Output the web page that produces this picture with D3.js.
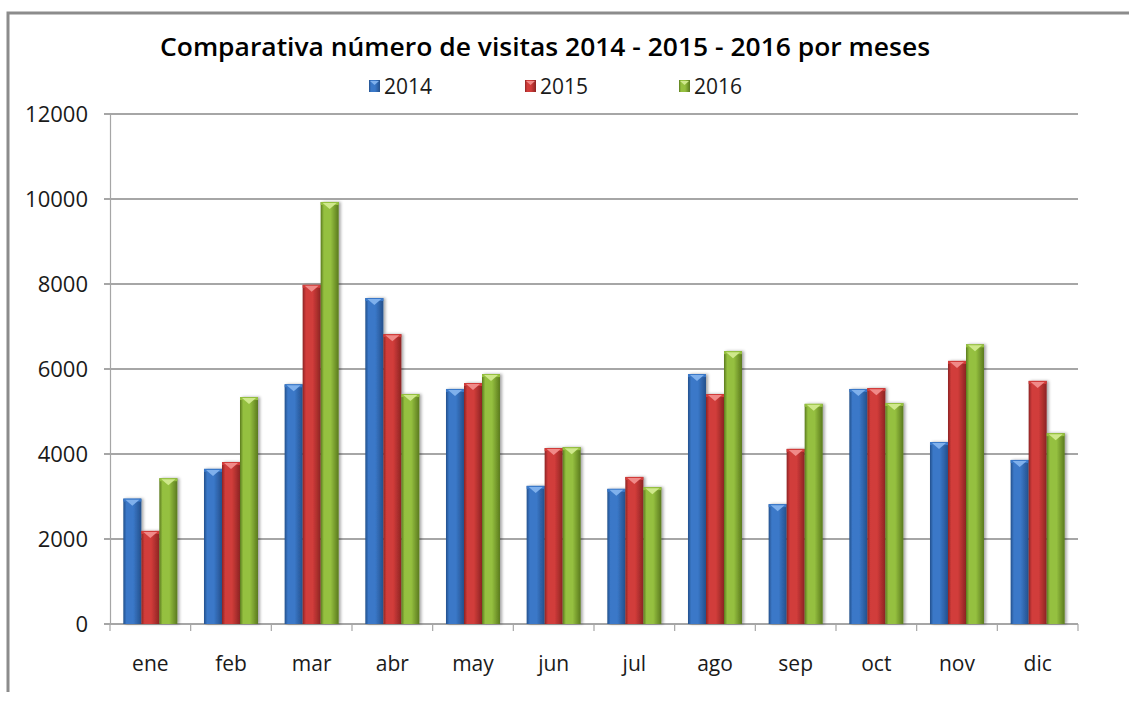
<!DOCTYPE html>
<html>
<head>
<meta charset="utf-8">
<script src="https://cdn.jsdelivr.net/npm/d3@7"></script>
<style>
  body { margin: 0; background: #fff; }
  svg { display: block; }
</style>
</head>
<body>
<svg id="chart" width="1129" height="701"></svg>
<script>
const months = ["ene", "feb", "mar", "abr", "may", "jun", "jul", "ago", "sep", "oct", "nov", "dic"];
const years = ["2014", "2015", "2016"];
const visits2014 = [2950, 3650, 5640, 7670, 5530, 3250, 3180, 5880, 2820, 5530, 4280, 3860];
const visits2015 = [2190, 3810, 7980, 6820, 5670, 4140, 3460, 5410, 4120, 5550, 6190, 5720];
const visits2016 = [3430, 5340, 9930, 5410, 5880, 4160, 3220, 6420, 5180, 5200, 6580, 4490];
const yTicks = [0, 2000, 4000, 6000, 8000, 10000, 12000];
const title = "Comparativa número de visitas 2014 - 2015 - 2016 por meses";

const series = [visits2014, visits2015, visits2016];
const colors = {
  "2014": { dark: "#24508c", mid: "#3a78c8", light: "#7fb0ec" },
  "2015": { dark: "#8c2423", mid: "#d13c3a", light: "#f08a88" },
  "2016": { dark: "#5a7a1e", mid: "#95c03f", light: "#cfe88c" }
};

const svg = d3.select("#chart");
const plotLeft = 110, plotRight = 1078, plotTop = 114, plotBottom = 624;

// outer frame (only top and left edges are visible)
svg.append("path")
  .attr("d", "M8,692 L8,13 L1129,13")
  .attr("fill", "none")
  .attr("stroke", "#8c8c8c")
  .attr("stroke-width", 3);

const defs = svg.append("defs");
years.forEach(yr => {
  let g = defs.append("linearGradient").attr("id", "grad" + yr)
    .attr("x1", "0%").attr("x2", "100%").attr("y1", "0%").attr("y2", "0%");
  g.append("stop").attr("offset", "0%").attr("stop-color", colors[yr].dark);
  g.append("stop").attr("offset", "18%").attr("stop-color", colors[yr].mid);
  g.append("stop").attr("offset", "55%").attr("stop-color", colors[yr].mid);
  g.append("stop").attr("offset", "100%").attr("stop-color", colors[yr].dark);
});
let sh = defs.append("filter").attr("id", "shadow").attr("x", "-20%").attr("width", "160%");
sh.append("feDropShadow").attr("dx", 2).attr("dy", 0).attr("stdDeviation", 1.5)
  .attr("flood-color", "#000").attr("flood-opacity", 0.35);

const x0 = d3.scaleBand().domain(months).range([plotLeft, plotRight]);
const x1 = d3.scaleBand().domain(years).range([0, x0.bandwidth()]).paddingOuter(0.74);
const y = d3.scaleLinear().domain([0, 12000]).range([plotBottom, plotTop]);

// gridlines
svg.append("g")
  .selectAll("line")
  .data(yTicks)
  .join("line")
  .attr("x1", plotLeft - 6).attr("x2", plotRight)
  .attr("y1", d => y(d)).attr("y2", d => y(d))
  .attr("stroke", "#a6a6a6").attr("stroke-width", 1.2)
  .attr("shape-rendering", "crispEdges");

// y axis
const yAxis = svg.append("g")
  .attr("transform", `translate(${plotLeft},0)`)
  .call(d3.axisLeft(y).tickValues(yTicks).tickFormat(d3.format("d")).tickSize(6).tickPadding(16));
yAxis.select(".domain").attr("stroke", "#a6a6a6").attr("stroke-width", 1.2);
yAxis.selectAll(".tick line").attr("stroke", "#a6a6a6");
yAxis.selectAll("text")
  .attr("font-family", "'Open Sans', sans-serif")
  .attr("font-size", 22)
  .attr("fill", "#1a1a1a");

// x axis ticks at category boundaries
const bounds = months.map(m => x0(m)).concat([plotRight]);
svg.append("g")
  .selectAll("line")
  .data(bounds)
  .join("line")
  .attr("x1", d => d).attr("x2", d => d)
  .attr("y1", plotBottom).attr("y2", plotBottom + 7)
  .attr("stroke", "#a6a6a6").attr("stroke-width", 1.2);

svg.append("g")
  .selectAll("text")
  .data(months)
  .join("text")
  .attr("x", d => x0(d) + x0.bandwidth() / 2)
  .attr("y", 671)
  .attr("text-anchor", "middle")
  .attr("font-family", "'Open Sans', sans-serif")
  .attr("font-size", 21)
  .attr("fill", "#1a1a1a")
  .text(d => d);

// bars
const bw = x1.bandwidth();
years.forEach((yr, si) => {
  let g = svg.append("g");
  let bars = g.selectAll("g")
    .data(months.map((m, i) => ({ m: m, v: series[si][i] })))
    .join("g")
    .attr("transform", d => `translate(${x0(d.m) + x1(yr)},${y(d.v)})`);
  bars.append("rect")
    .attr("width", bw)
    .attr("height", d => plotBottom - y(d.v))
    .attr("fill", `url(#grad${yr})`)
    .attr("filter", "url(#shadow)");
  // bevelled top
  bars.append("rect")
    .attr("width", bw).attr("height", 3)
    .attr("fill", colors[yr].mid);
  bars.append("path")
    .attr("d", `M2,1 L${bw - 2},1 L${bw / 2},7 Z`)
    .attr("fill", colors[yr].light);
});

// title
svg.append("text")
  .attr("x", 545).attr("y", 56)
  .attr("text-anchor", "middle")
  .attr("font-family", "'Open Sans', sans-serif")
  .attr("font-weight", 600)
  .attr("font-size", 26)
  .attr("textLength", 770)
  .attr("lengthAdjust", "spacingAndGlyphs")
  .attr("fill", "#000")
  .text(title);

// legend
const legendX = [369, 525, 679];
const lg = svg.append("g")
  .selectAll("g")
  .data(years)
  .join("g")
  .attr("transform", (d, i) => `translate(${legendX[i]},80)`);
lg.append("rect")
  .attr("width", 11).attr("height", 12)
  .attr("fill", d => `url(#grad${d})`);
lg.append("path")
  .attr("d", "M1,1 L10,1 L5.5,5 Z")
  .attr("fill", d => colors[d].light);
lg.append("text")
  .attr("x", 15).attr("y", 14)
  .attr("font-family", "'Open Sans', sans-serif")
  .attr("font-size", 21)
  .attr("fill", "#1a1a1a")
  .text(d => d);
</script>
</body>
</html>
